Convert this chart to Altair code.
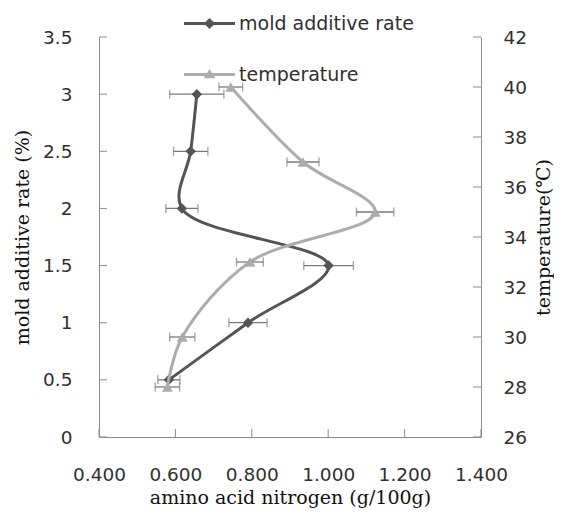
import altair as alt
import pandas as pd

# ---- data ----
series_names = ["mold additive rate", "temperature"]

# mold additive rate (left axis) vs amino acid nitrogen
mold_rate = [3.0, 2.5, 2.0, 1.5, 1.0, 0.5]
mold_aan = [0.656, 0.640, 0.617, 1.001, 0.790, 0.583]
mold_err = [0.071, 0.045, 0.042, 0.065, 0.050, 0.029]

# temperature (right axis) vs amino acid nitrogen
temp_c = [40, 37, 35, 33, 30, 28]
temp_aan = [0.745, 0.934, 1.123, 0.795, 0.618, 0.579]
temp_err = [0.031, 0.042, 0.049, 0.035, 0.033, 0.032]

x_ticks = [0.4, 0.6, 0.8, 1.0, 1.2, 1.4]
left_ticks = [0, 0.5, 1, 1.5, 2, 2.5, 3, 3.5]
right_ticks = [26, 28, 30, 32, 34, 36, 38, 40, 42]

x_title = "amino acid nitrogen (g/100g)"
left_title = "mold additive rate (%)"
right_title = "temperature(℃)"

# ---- styles ----
W, H = 382, 400
TICK = 8
DARK = "#545454"
LIGHT = "#acacac"
ERR = "#7a7a7a"
AXIS = "#8a8a8a"
TXT = "#303030"
SANS = "DejaVu Sans"
SERIF = "DejaVu Serif"

# legend symbols: filled bar (line) + marker, all filled shapes
MOLD_SYM = "M-3.64,-0.21L3.64,-0.21L3.64,0.21L-3.64,0.21Z M-0.8,0L0,-0.8L0.8,0L0,0.8Z"
TEMP_SYM = "M-3.64,-0.21L3.64,-0.21L3.64,0.21L-3.64,0.21Z M-0.82,0.55L0,-0.8L0.82,0.55Z"


def frame(xs, ys, errs, name):
    df = pd.DataFrame({"aan": xs, "val": ys, "err": errs})
    df["idx"] = range(len(df))
    df["series"] = name
    df["lo"] = df["aan"] - df["err"]
    df["hi"] = df["aan"] + df["err"]
    return df


def caps(df):
    a = df[["lo", "val"]].rename(columns={"lo": "cx"})
    b = df[["hi", "val"]].rename(columns={"hi": "cx"})
    return pd.concat([a, b], ignore_index=True)


mold_df = frame(mold_aan, mold_rate, mold_err, series_names[0])
temp_df = frame(temp_aan, temp_c, temp_err, series_names[1])

x_scale = alt.Scale(domain=[x_ticks[0], x_ticks[-1]], nice=False, zero=False)
left_scale = alt.Scale(domain=[left_ticks[0], left_ticks[-1]], nice=False, zero=False)
right_scale = alt.Scale(domain=[right_ticks[0], right_ticks[-1]], nice=False, zero=False)

common = dict(
    grid=False, ticks=False, domainColor=AXIS, domainWidth=1,
    labelFont=SANS, labelFontSize=18.5, labelColor=TXT,
    titleFont=SERIF, titleFontSize=19, titleFontWeight="normal", titleColor="#111111",
)

x_axis = alt.Axis(values=x_ticks, format=".3f", labelPadding=28, labelFlush=False,
                  title=x_title, titlePadding=5, **common)
left_axis = alt.Axis(orient="left", values=left_ticks, labelExpr="'' + datum.value",
                     labelPadding=27, title=left_title, titlePadding=10, **common)
right_axis = alt.Axis(orient="right", values=right_ticks, format="d",
                      labelPadding=22, title=right_title, titlePadding=8,
                      titleAngle=270, titleBaseline="top", **common)


def group(df, color, shape, msize, y_scale, y_axis, sym, legend_y, y_ticks, tick_x, tick_x2):
    base = alt.Chart(df)
    y_plain = alt.Y("val:Q", scale=y_scale)
    line = base.mark_line(interpolate="catmull-rom", strokeWidth=3, color=color).encode(
        x=alt.X("aan:Q", scale=x_scale, axis=x_axis),
        y=alt.Y("val:Q", scale=y_scale, axis=y_axis),
        order=alt.Order("idx:Q"),
    )
    pts = base.mark_point(shape=shape, filled=True, color=color, size=msize, opacity=1).encode(
        x=alt.X("aan:Q", scale=x_scale), y=y_plain,
    )
    bars = base.mark_rule(color=ERR, strokeWidth=1.3).encode(
        x=alt.X("lo:Q", scale=x_scale), x2="hi:Q", y=y_plain,
    )
    cap = alt.Chart(caps(df)).mark_tick(orient="vertical", color=ERR, thickness=1.3, size=9).encode(
        x=alt.X("cx:Q", scale=x_scale), y=y_plain,
    )
    # inward axis ticks for this group's y axis
    yt = alt.Chart(pd.DataFrame({"t": y_ticks})).mark_rule(color=AXIS, strokeWidth=1).encode(
        y=alt.Y("t:Q", scale=y_scale),
        x=alt.value(tick_x), x2=alt.value(tick_x2),
    )
    leg = base.transform_filter("false").mark_point(
        filled=True, color=color, opacity=1
    ).encode(
        shape=alt.Shape(
            "series:N",
            scale=alt.Scale(domain=[df["series"].iloc[0]], range=[sym]),
            legend=alt.Legend(
                orient="none", legendX=101, legendY=legend_y, title=None,
                symbolSize=196, symbolFillColor=color, symbolStrokeWidth=0,
                labelFont=SANS, labelFontSize=19,
                labelColor=TXT, labelOffset=20, labelLimit=400, padding=0,
            ),
        )
    )
    return alt.layer(line, bars, cap, pts, yt, leg)


mold = group(mold_df, DARK, "diamond", 110, left_scale, left_axis, MOLD_SYM, -23,
             left_ticks, 0, TICK)
temp = group(temp_df, LIGHT, "triangle-up", 120, right_scale, right_axis, TEMP_SYM, 28,
             right_ticks, W, W - TICK)

# inward ticks on the x axis
xt = alt.Chart(pd.DataFrame({"t": x_ticks})).mark_rule(color=AXIS, strokeWidth=1).encode(
    x=alt.X("t:Q", scale=x_scale),
    y=alt.value(H), y2=alt.value(H - TICK),
)

chart = alt.layer(mold, temp, xt).resolve_scale(
    y="independent", shape="independent"
).properties(
    width=W, height=H,
    padding={"left": 5, "top": 6, "right": 0, "bottom": 0},
).configure_view(stroke=None)

chart.save("out.html", embed_options={"renderer": "svg", "actions": False})
